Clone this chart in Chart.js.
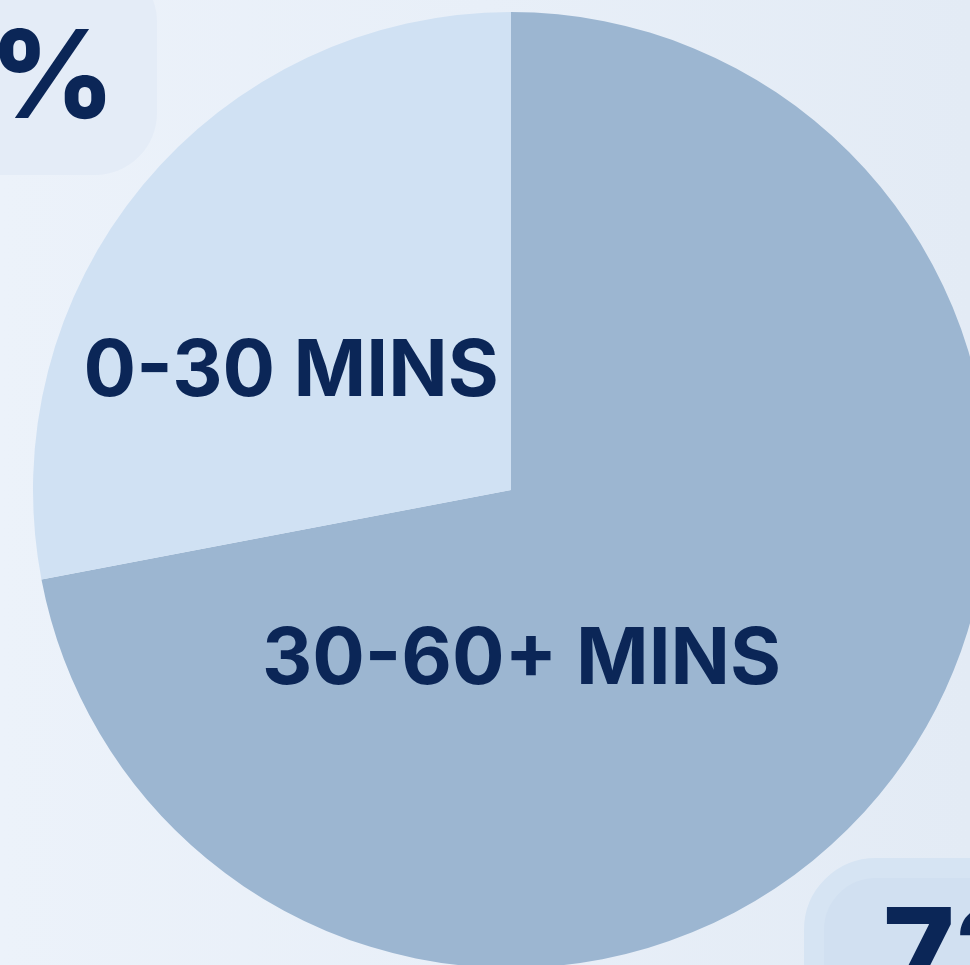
<!DOCTYPE html>
<html>
<head>
<meta charset="utf-8">
<script src="https://cdn.jsdelivr.net/npm/chart.js@4.4.1/dist/chart.umd.min.js"></script>
<style>
  html, body { margin: 0; padding: 0; width: 970px; height: 965px; overflow: hidden; }
  body {
    position: relative;
    background: linear-gradient(90deg, #ecf2fa 0%, #e8eff8 50%, #e3ebf5 100%);
    font-family: Inter, "Noto Sans", sans-serif;
  }
  .badge {
    position: absolute;
    box-sizing: border-box;
    color: #0b2657;
    font-weight: 800;
    font-size: 122px;
    line-height: 1;
    white-space: nowrap;
    z-index: 2;
  }
  #badgeLow {
    left: -320px; top: -40px; width: 477px; height: 215px;
    border-radius: 62px;
    background: #e4ecf7;
    text-align: right;
    padding-right: 42px;
    padding-top: 53px;
  }
  #badgeHigh {
    left: 804px; top: 858px; width: 420px; height: 260px;
    border-radius: 72px;
    background: #d1e0f1;
    border: 20px solid #d6e4f3;
    padding-left: 59px;
    padding-top: 13px;
  }
  #wrap { position: absolute; left: 0; top: 0; width: 1022px; height: 980px; z-index: 1; }
</style>
</head>
<body>
<div id="badgeLow" class="badge"></div>
<div id="badgeHigh" class="badge"></div>
<div id="wrap"><canvas id="pie"></canvas></div>
<script>
// Commute time split
const categories = ['30-60+ MINS', '0-30 MINS'];
const shares = [72, 28];
const sliceColors = ['#9cb6d1', '#d0e1f3'];

document.getElementById('badgeLow').textContent = shares[1] + '%';
document.getElementById('badgeHigh').textContent = shares[0] + '%';

// Draws each category name inside its slice, placed relative to the pie centre in radius units
const sliceLabels = {
  id: 'sliceLabels',
  afterDatasetsDraw(chart, args, opts) {
    const meta = chart.getDatasetMeta(0);
    const ctx = chart.ctx;
    ctx.save();
    ctx.fillStyle = opts.color;
    ctx.font = opts.font;
    ctx.textAlign = 'center';
    ctx.textBaseline = 'alphabetic';
    meta.data.forEach((arc, i) => {
      const r = arc.outerRadius;
      const off = opts.offsets[i];
      ctx.fillText(chart.data.labels[i], arc.x + off[0] * r, arc.y + off[1] * r);
    });
    ctx.restore();
  }
};

new Chart(document.getElementById('pie'), {
  type: 'pie',
  data: {
    labels: categories,
    datasets: [{
      data: shares,
      backgroundColor: sliceColors,
      borderWidth: 0,
      hoverOffset: 0
    }]
  },
  options: {
    responsive: true,
    maintainAspectRatio: false,
    animation: false,
    layout: { padding: 12 },
    plugins: {
      legend: { display: false },
      tooltip: { enabled: false },
      sliceLabels: {
        color: '#0b2657',
        font: '700 78px Inter, "Noto Sans", sans-serif',
        offsets: [[0.022, 0.406], [-0.460, -0.197]]
      }
    }
  },
  plugins: [sliceLabels]
});
</script>
</body>
</html>
